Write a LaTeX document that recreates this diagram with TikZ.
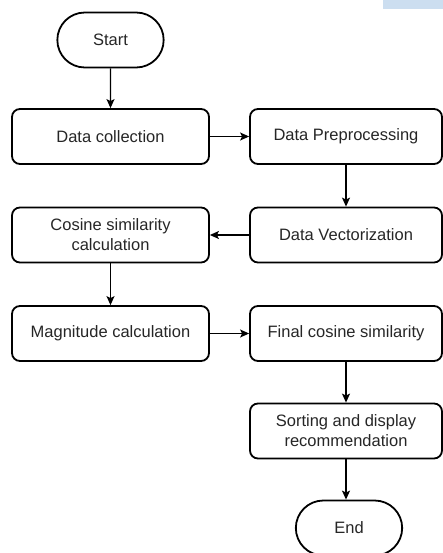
\documentclass[tikz,border=0pt]{standalone}
\usepackage{fontspec}
\setmainfont{Liberation Sans}
\usetikzlibrary{arrows.meta,shapes.misc}
\definecolor{selblue}{RGB}{204,222,240}
\begin{document}
\begin{tikzpicture}[x=1pt,y=-1pt,
  box/.style={draw,line width=1.8pt,rounded corners=8pt,minimum height=55pt,
    align=center,text=black!85,font=\fontsize{16.5}{20}\selectfont},
  leftbox/.style={box,minimum width=197pt},
  rightbox/.style={box,minimum width=192pt},
  term/.style={draw,line width=1.8pt,rounded rectangle,minimum width=113pt,
    minimum height=55pt,text=black!85,font=\fontsize{16.5}{20}\selectfont},
  arr/.style={line width=1.2pt,-{Stealth[length=9pt,width=8pt,inset=2pt]}}]
  \useasboundingbox (0,0) rectangle (443,553);
  \fill[selblue] (383,0) rectangle (443,9);
  % steps, left and right column
  \node[term] (start) at (110.5,40) {Start};
  \node[leftbox] (collect) at (110.5,136.5) {Data collection};
  \node[rightbox] (prep) at (346,136.5) {Data Preprocessing};
  \node[rightbox] (vect) at (346,235) {Data Vectorization};
  \node[leftbox] (cosine) at (110.5,235) {Cosine similarity\\calculation};
  \node[leftbox] (magn) at (110.5,333.5) {Magnitude calculation};
  \node[rightbox] (final) at (346,333.5) {Final cosine similarity};
  \node[rightbox] (sort) at (346,431) {Sorting and display\\recommendation};
  \node[term] (end) at (349,528) {End};
  % flow
  \draw[arr] (start) -- (collect);
  \draw[arr] (collect) -- (prep);
  \draw[arr] (prep) -- (vect);
  \draw[arr] (vect) -- (cosine);
  \draw[arr] (cosine) -- (magn);
  \draw[arr] (magn) -- (final);
  \draw[arr] (final) -- (sort);
  \draw[arr] (sort.south) -- (sort.south |- end.north);
\end{tikzpicture}
\end{document}
